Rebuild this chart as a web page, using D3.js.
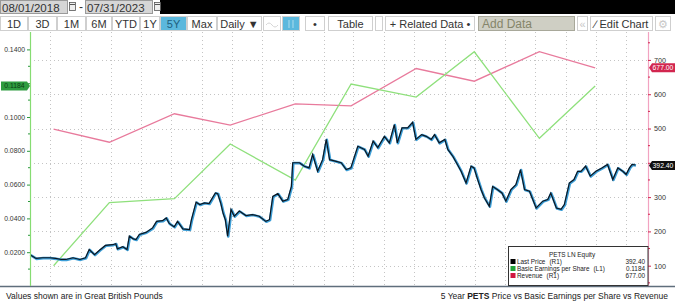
<!DOCTYPE html>
<html>
<head>
<meta charset="utf-8">
<script src="https://cdn.jsdelivr.net/npm/d3@7"></script>
<style>
body { margin: 0; background: #fff; }
svg { display: block; font-family: "Liberation Sans", Arial, sans-serif; }
</style>
</head>
<body>
<script>
// Last price (pence)
var priceDates = ["2018-08-03","2018-08-21","2018-09-10","2018-10-01","2018-10-19","2018-11-05","2018-11-19","2018-12-10","2018-12-31","2019-01-17",
  "2019-01-28","2019-02-13","2019-02-28","2019-03-18","2019-04-09","2019-04-18","2019-04-23","2019-05-09","2019-05-22","2019-05-29",
  "2019-06-10","2019-06-18","2019-06-28","2019-07-18","2019-08-07","2019-08-19","2019-09-06","2019-09-17","2019-09-26","2019-10-11",
  "2019-10-21","2019-11-06","2019-11-26","2019-12-02","2019-12-16","2019-12-27","2020-01-10","2020-01-24","2020-02-12","2020-02-19",
  "2020-02-28","2020-03-06","2020-03-13","2020-03-20","2020-03-30","2020-04-09","2020-04-24","2020-05-14","2020-06-02","2020-06-23",
  "2020-07-13","2020-07-24","2020-08-03","2020-08-18","2020-09-02","2020-09-17","2020-09-28","2020-10-02","2020-10-22","2020-11-06",
  "2020-11-20","2020-12-01","2020-12-16","2020-12-31","2021-01-11","2021-01-21","2021-02-10","2021-02-25","2021-03-12","2021-03-26",
  "2021-04-16","2021-05-06","2021-05-17","2021-06-01","2021-06-15","2021-07-05","2021-07-20","2021-08-04","2021-08-13","2021-08-27",
  "2021-09-13","2021-09-28","2021-10-08","2021-10-25","2021-11-08","2021-11-23","2021-12-03","2021-12-17","2022-01-03","2022-01-12",
  "2022-01-27","2022-02-07","2022-02-21","2022-03-08","2022-03-23","2022-04-01","2022-04-12","2022-04-22","2022-05-02","2022-05-17",
  "2022-05-27","2022-06-10","2022-06-24","2022-07-06","2022-07-21","2022-08-05","2022-08-19","2022-08-31","2022-09-15","2022-10-05",
  "2022-10-25","2022-11-09","2022-11-18","2022-12-05","2022-12-19","2022-12-29","2023-01-13","2023-01-27","2023-02-07","2023-02-17",
  "2023-03-03","2023-03-17","2023-04-03","2023-04-21","2023-05-08","2023-05-24","2023-06-08","2023-06-23","2023-07-03","2023-07-13",
  "2023-07-21","2023-07-31"];
var priceValues = [131,120,122,122,120,117,117,122,117,122,
  146,131,144,158,160,163,148,154,146,185,
  177,175,190,196,209,228,230,238,222,212,
  228,206,204,233,284,277,282,280,311,309,
  282,253,233,185,263,243,258,245,248,243,
  228,233,301,309,287,292,330,399,399,389,
  384,423,374,408,467,408,403,399,379,384,
  447,438,418,462,443,476,457,510,457,501,
  501,517,467,481,476,467,481,457,467,438,
  418,399,374,340,389,384,350,321,297,272,
  330,321,311,287,321,335,379,321,316,267,
  287,292,311,267,263,277,340,350,374,374,
  389,360,374,384,394,350,384,374,365,384,
  394,392.4];

// Half-year reporting periods
var periodDates = ["2018-10-11","2019-03-28","2019-10-10","2020-03-26","2020-10-08","2021-03-25","2021-10-07","2022-03-31","2022-10-13","2023-03-30"];
var epsValues = [0.0120,0.0493,0.0517,0.0840,0.0627,0.1195,0.1118,0.1386,0.0874,0.1184];
var revenueValues = [498,460,543,510,572,566,675,638,724,677];

var leftTicks = [0.02,0.04,0.06,0.08,0.10,0.12,0.14];
var rightTicks = [100,200,300,400,500,600,700];

var lastPrice = 392.40, lastEps = 0.1184, lastRevenue = 677.00;

var parse = d3.timeParse("%Y-%m-%d");
var W = 675, H = 306;
var plotLeft = 30, plotRight = 648, plotTop = 32, plotBottom = 286;

var svg = d3.select("body").append("svg").attr("width", W).attr("height", H);

// ---------- toolbar ----------
var bar = svg.append("g");
bar.append("rect").attr("x", 160).attr("y", 0).attr("width", 515).attr("height", 14).attr("fill", "#000");

function dateBox(x, label) {
  bar.append("rect").attr("x", x + 0.5).attr("y", 0.5).attr("width", 67).attr("height", 13)
    .attr("fill", "#d6d6d6").attr("stroke", "#9a9a9a");
  bar.append("text").attr("x", x + 2).attr("y", 11.5).attr("font-size", 11.5).attr("fill", "#333").text(label);
  bar.append("rect").attr("x", x + 69.5).attr("y", 2.5).attr("width", 6).attr("height", 8)
    .attr("fill", "#eee").attr("stroke", "#555").attr("stroke-width", 0.8);
  bar.append("line").attr("x1", x + 70).attr("x2", x + 75).attr("y1", 4.5).attr("y2", 4.5).attr("stroke", "#555");
}
dateBox(0, "08/01/2018");
bar.append("text").attr("x", 79).attr("y", 11).attr("font-size", 12).attr("fill", "#333").text("-");
dateBox(85, "07/31/2023");

var buttons = [
  {t: "1D", a: 0, b: 28}, {t: "3D", a: 28, b: 57}, {t: "1M", a: 57, b: 86}, {t: "6M", a: 86, b: 112},
  {t: "YTD", a: 112, b: 140}, {t: "1Y", a: 140, b: 160}, {t: "5Y", a: 160, b: 187, on: true},
  {t: "Max", a: 187, b: 217}, {t: "Daily \u25BC", a: 217, b: 262},
  {t: "", a: 263, b: 281}, {t: "", a: 282, b: 300, on: true}, {t: "\u2022", a: 305, b: 325},
  {t: "Table", a: 328, b: 373}, {t: "", a: 375, b: 383},
  {t: "+ Related Data \u2022", a: 385, b: 475}, {t: "Add Data", a: 478, b: 575, add: true},
  {t: "\u00AB", a: 577, b: 588, faint: true}, {t: "\u2215 Edit Chart", a: 590, b: 653}, {t: "\u2699", a: 655, b: 671, faint: true}
];
var bg = bar.selectAll("g.btn").data(buttons).enter().append("g");
bg.append("rect")
  .attr("x", function(d) { return d.a + 0.5; }).attr("y", 16.5)
  .attr("width", function(d) { return d.b - d.a - 1; }).attr("height", 14)
  .attr("fill", function(d) { return d.on ? "#5bb8dd" : d.add ? "#cfcfc4" : "#fff"; })
  .attr("stroke", function(d) { return d.add ? "#a8a89a" : "#cfcfcf"; });
bg.append("text")
  .attr("x", function(d) { return d.add ? d.a + 4 : (d.a + d.b) / 2; })
  .attr("y", 28)
  .attr("text-anchor", function(d) { return d.add ? "start" : "middle"; })
  .attr("font-size", function(d) { return d.add ? 12 : 11; })
  .attr("fill", function(d) { return d.add ? "#85856a" : d.faint ? "#c8c8c8" : d.on ? "#1e5f80" : "#333"; })
  .text(function(d) { return d.t; });
// faint icons in the chart-type buttons
bar.append("path").attr("d", "M266,25 q3,-4 6,0 t6,0").attr("fill", "none").attr("stroke", "#d6d6d6");
bar.append("path").attr("d", "M289,20 v8 M293,20 v8").attr("stroke", "#9fd6ea").attr("stroke-width", 1.2);

// ---------- scales ----------
var x = d3.scaleTime().domain([parse("2018-08-01"), parse("2023-07-31")]).range([30, 636]);
var yL = d3.scaleLinear().domain([0, 0.15]).range([plotBottom, 32.5]);
var yR = d3.scaleLinear().domain([40.8, 780]).range([plotBottom, 32.5]);

// ---------- grid ----------
var grid = svg.append("g").attr("stroke", "#c4c4c4").attr("stroke-dasharray", "1,3").attr("stroke-width", 1);
grid.selectAll("line.h").data(rightTicks).enter().append("line")
  .attr("x1", plotLeft).attr("x2", plotRight)
  .attr("y1", function(d) { return Math.round(yR(d)) + 0.5; })
  .attr("y2", function(d) { return Math.round(yR(d)) + 0.5; });
var qTicks = d3.timeMonth.every(3).range(parse("2018-10-01"), parse("2023-07-02"))
  .filter(function(d) { return d.getMonth() % 3 === 0; });
grid.selectAll("line.v").data(qTicks).enter().append("line")
  .attr("x1", function(d) { return Math.round(x(d)) + 0.5; })
  .attr("x2", function(d) { return Math.round(x(d)) + 0.5; })
  .attr("y1", plotTop).attr("y2", plotBottom);

// ---------- series ----------
var revData = periodDates.map(function(d, i) { return {date: parse(d), v: revenueValues[i]}; });
var epsData = periodDates.map(function(d, i) { return {date: parse(d), v: epsValues[i]}; });
var priceData = priceDates.map(function(d, i) { return {date: parse(d), v: priceValues[i]}; });

svg.append("path").datum(revData).attr("fill", "none").attr("stroke", "#e87a9c").attr("stroke-width", 1.3)
  .attr("d", d3.line().x(function(d) { return x(d.date); }).y(function(d) { return yR(d.v); }));
svg.append("path").datum(epsData).attr("fill", "none").attr("stroke", "#8fe07c").attr("stroke-width", 1.3)
  .attr("d", d3.line().x(function(d) { return x(d.date); }).y(function(d) { return yL(d.v); }));

var priceLine = d3.line().x(function(d) { return x(d.date); }).y(function(d) { return yR(d.v); });
svg.append("path").datum(priceData).attr("fill", "none").attr("stroke", "#3d9fd8").attr("stroke-width", 2.6)
  .attr("stroke-linejoin", "round").attr("d", priceLine);
svg.append("path").datum(priceData).attr("fill", "none").attr("stroke", "#0d1620").attr("stroke-width", 1.2)
  .attr("transform", "translate(-0.6,-0.4)").attr("d", priceLine);

// ---------- axes ----------
svg.append("line").attr("x1", 0).attr("x2", W).attr("y1", plotBottom + 0.5).attr("y2", plotBottom + 0.5)
  .attr("stroke", "#5f6e7c").attr("stroke-width", 1.5);
svg.append("line").attr("x1", plotLeft + 0.5).attr("x2", plotLeft + 0.5).attr("y1", plotTop).attr("y2", plotBottom)
  .attr("stroke", "#86dc72").attr("stroke-width", 1.2);
svg.append("line").attr("x1", plotRight + 0.5).attr("x2", plotRight + 0.5).attr("y1", plotTop).attr("y2", plotBottom)
  .attr("stroke", "#f2a3c1").attr("stroke-width", 1.2);

// tick labels hidden behind a last-value tag are left out
var leftAxis = d3.axisLeft(yL).tickValues(leftTicks).tickSize(3).tickPadding(2)
  .tickFormat(function(d) { return Math.abs(yL(d) - yL(lastEps)) < 6 ? "" : d3.format(".4f")(d); });
var gl = svg.append("g").attr("transform", "translate(" + plotLeft + ",0)").call(leftAxis);
gl.select(".domain").remove();
gl.selectAll("line").attr("stroke", "#2e9a3e");
gl.selectAll("text").attr("font-size", 6.8).attr("fill", "#333").attr("font-family", "Liberation Sans, Arial, sans-serif");
svg.append("g").selectAll("line").data(d3.range(0.01, 0.15, 0.02)).enter().append("line")
  .attr("x1", plotLeft - 2).attr("x2", plotLeft)
  .attr("y1", function(d) { return yL(d); }).attr("y2", function(d) { return yL(d); })
  .attr("stroke", "#2e9a3e");

var rightAxis = d3.axisRight(yR).tickValues(rightTicks).tickSize(3).tickPadding(3)
  .tickFormat(function(d) {
    return (Math.abs(yR(d) - yR(lastPrice)) < 7 || Math.abs(yR(d) - yR(lastRevenue)) < 7) ? "" : d3.format("d")(d);
  });
var gr = svg.append("g").attr("transform", "translate(" + plotRight + ",0)").call(rightAxis);
gr.select(".domain").remove();
gr.selectAll("line").attr("stroke", "#d2264f");
gr.selectAll("text").attr("font-size", 7.2).attr("fill", "#333").attr("font-family", "Liberation Sans, Arial, sans-serif");
svg.append("g").selectAll("line").data(d3.range(50, 780, 100)).enter().append("line")
  .attr("x1", plotRight).attr("x2", plotRight + 2)
  .attr("y1", function(d) { return yR(d); }).attr("y2", function(d) { return yR(d); })
  .attr("stroke", "#d2264f");

// last-value tags
function tag(xl, xr, yc, fill, txt, col, pointLeft) {
  var g = svg.append("g");
  var p = pointLeft
    ? "M" + xl + "," + yc + " L" + (xl + 3) + "," + (yc - 4.5) + " H" + xr + " V" + (yc + 4.5) + " H" + (xl + 3) + " Z"
    : "M" + xl + "," + (yc - 4.5) + " H" + (xr - 3) + " L" + xr + "," + yc + " L" + (xr - 3) + "," + (yc + 4.5) + " H" + xl + " Z";
  g.append("path").attr("d", p).attr("fill", fill);
  g.append("text").attr("x", (xl + xr) / 2 + (pointLeft ? 1 : -1)).attr("y", yc + 2.4).attr("text-anchor", "middle")
    .attr("font-size", 6.8).attr("fill", col).text(txt);
}
tag(1, 30, yL(lastEps), "#2f9c40", d3.format(".4f")(lastEps), "#0c3d14", false);
tag(649, 675, yR(lastRevenue), "#d2264f", d3.format(".2f")(lastRevenue), "#fff", true);
tag(649, 675, yR(lastPrice), "#101010", d3.format(".2f")(lastPrice), "#fff", true);

// ---------- legend ----------
var lg = svg.append("g");
lg.append("rect").attr("x", 508.5).attr("y", 246.5).attr("width", 139.5).attr("height", 39)
  .attr("fill", "#fff").attr("stroke", "#333").attr("stroke-width", 1);
lg.append("text").attr("x", 572).attr("y", 256.5).attr("text-anchor", "middle").attr("font-size", 6.4)
  .attr("fill", "#222").text("PETS LN Equity");
var legendRows = [
  {name: "Last Price", axis: "(R1)", val: d3.format(".2f")(lastPrice), col: "#000"},
  {name: "Basic Earnings per Share", axis: "(L1)", val: d3.format(".4f")(lastEps), col: "#22a33a"},
  {name: "Revenue", axis: "(R1)", val: d3.format(".2f")(lastRevenue), col: "#d0163f"}
];
var lr = lg.selectAll("g.row").data(legendRows).enter().append("g")
  .attr("transform", function(d, i) { return "translate(0," + (264 + i * 7) + ")"; });
lr.append("rect").attr("x", 510.5).attr("y", -5).attr("width", 5).attr("height", 5).attr("fill", function(d) { return d.col; });
var lt = lr.append("text").attr("x", 517).attr("y", 0).attr("font-size", 6.4).attr("fill", "#222");
lt.append("tspan").text(function(d) { return d.name; });
lt.append("tspan").attr("dx", 4).text(function(d) { return d.axis; });
lr.append("text").attr("x", 645).attr("y", 0).attr("text-anchor", "end").attr("font-size", 6.4).attr("fill", "#222").text(function(d) { return d.val; });

// ---------- footer ----------
svg.append("text").attr("x", 6).attr("y", 299).attr("font-size", 8.5).attr("fill", "#222")
  .text("Values shown are in Great British Pounds");
var ft = svg.append("text").attr("x", 668).attr("y", 299).attr("text-anchor", "end").attr("font-size", 8.5).attr("fill", "#222");
ft.append("tspan").text("5 Year ");
ft.append("tspan").attr("font-weight", "bold").text("PETS");
ft.append("tspan").text(" Price vs Basic Earnings per Share vs Revenue");
</script>
</body>
</html>
